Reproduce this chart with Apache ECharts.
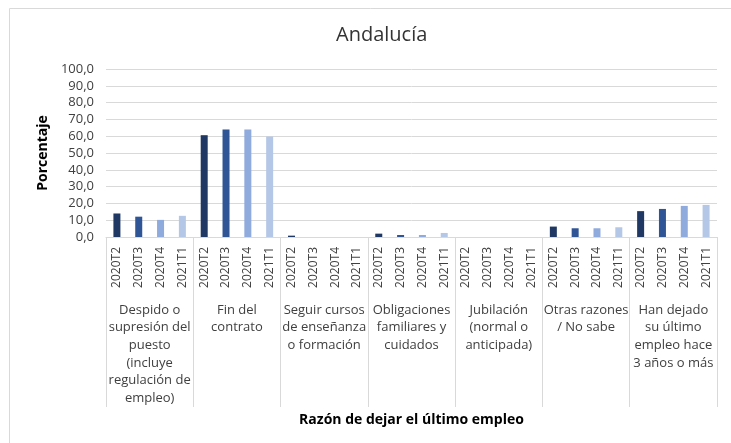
<!DOCTYPE html>
<html>
<head>
<meta charset="utf-8">
<script src="https://cdn.jsdelivr.net/npm/echarts@6/dist/echarts.min.js"></script>
<style>
  html, body { margin: 0; padding: 0; background: #fff; }
  #chart { width: 731px; height: 443px; }
</style>
</head>
<body>
<div id="chart"></div>
<script>
// razones (grupos del eje) y periodos
const groups = [
  "Despido o\nsupresión del\npuesto\n(incluye\nregulación de\nempleo)",
  "Fin del\ncontrato",
  "Seguir cursos\nde enseñanza\no formación",
  "Obligaciones\nfamiliares y\ncuidados",
  "Jubilación\n(normal o\nanticipada)",
  "Otras razones\n/ No sabe",
  "Han dejado\nsu último\nempleo hace\n3 años o más"
];
const periods = ["2020T2", "2020T3", "2020T4", "2021T1"];
const periodColors = ["#1F3864", "#2F5597", "#8FAADC", "#B4C7E7"];

// porcentaje por periodo, en el orden de groups
const v2020T2 = [14.0, 60.6, 0.8, 2.0, 0, 6.2, 15.4];
const v2020T3 = [12.1, 64.0, 0, 1.2, 0, 5.2, 16.7];
const v2020T4 = [10.2, 64.0, 0, 1.2, 0, 5.2, 18.5];
const v2021T1 = [12.6, 59.8, 0, 2.4, 0, 5.8, 19.1];
const valuesByPeriod = [v2020T2, v2020T3, v2020T4, v2021T1];

// una categoría hoja por grupo x periodo
const leafLabels = [];
const barData = [];
groups.forEach((g, gi) => {
  periods.forEach((p, pi) => {
    leafLabels.push(p);
    barData.push({ value: valuesByPeriod[pi][gi], itemStyle: { color: periodColors[pi] } });
  });
});

const font = "'Open Sans', 'Noto Sans', sans-serif";
const chart = echarts.init(document.getElementById("chart"), null, { renderer: "canvas" });

const option = {
  animation: false,
  textStyle: { fontFamily: font },
  title: {
    text: "Andalucía",
    left: 331,
    top: 20,
    textStyle: { fontSize: 20, fontWeight: "normal", color: "#333333", fontFamily: font }
  },
  graphic: [{
    type: "rect",
    shape: { x: 9.5, y: 8.5, width: 800, height: 600 },
    style: { fill: null, stroke: "#D9D9D9", lineWidth: 1 },
    silent: true
  }],
  grid: { left: 106, right: 14, top: 69, bottom: 206 },
  yAxis: {
    type: "value",
    min: 0,
    max: 100,
    interval: 10,
    name: "Porcentaje",
    nameLocation: "middle",
    nameGap: 54,
    nameTextStyle: { fontSize: 14, fontWeight: "bold", color: "#000", fontFamily: font },
    axisLine: { show: false },
    axisTick: { show: false },
    axisLabel: {
      fontSize: 13,
      color: "#404040",
      margin: 12,
      formatter: (v) => v.toFixed(1).replace(".", ",")
    },
    splitLine: { lineStyle: { color: "#D9D9D9", width: 1 } }
  },
  xAxis: [
    {
      type: "category",
      position: "bottom",
      data: leafLabels,
      axisLine: { lineStyle: { color: "#D9D9D9" } },
      axisTick: { show: false },
      axisLabel: { interval: 0, rotate: 90, fontSize: 12, color: "#404040", margin: 10 }
    },
    {
      type: "category",
      position: "bottom",
      data: groups,
      boundaryGap: true,
      axisLine: { show: false },
      axisTick: { show: true, interval: 0, length: 170, lineStyle: { color: "#D9D9D9" } },
      axisLabel: { interval: 0, fontSize: 13, lineHeight: 17.7, color: "#404040", margin: 64 },
      name: "Razón de dejar el último empleo",
      nameLocation: "middle",
      nameGap: 176,
      nameTextStyle: { fontSize: 14, fontWeight: "bold", color: "#000", fontFamily: font }
    }
  ],
  series: [{
    type: "bar",
    xAxisIndex: 0,
    barWidth: 7,
    data: barData
  }]
};
chart.setOption(option);
</script>
</body>
</html>
